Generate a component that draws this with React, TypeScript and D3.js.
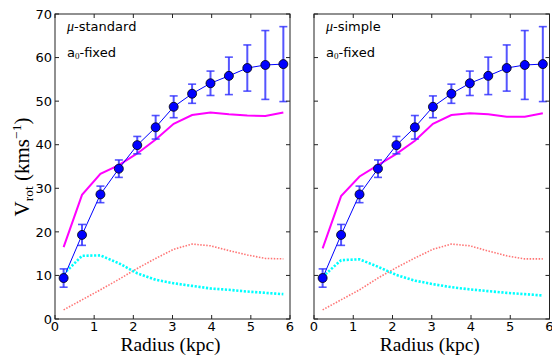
import React from "react";
import * as d3 from "d3";

const radius = [0.22, 0.69, 1.16, 1.63, 2.1, 2.57, 3.03, 3.5, 3.97, 4.44, 4.91, 5.37, 5.83];
const vObs = [9.4, 19.3, 28.6, 34.5, 39.9, 44.0, 48.7, 51.7, 54.1, 55.8, 57.6, 58.3, 58.5];
const vErr = [2.1, 2.4, 1.9, 2.0, 2.0, 2.7, 2.5, 2.2, 2.8, 4.3, 5.3, 7.9, 8.6];

const vTotStd = [16.5, 28.5, 33.3, 35.3, 38.0, 41.2, 44.8, 46.8, 47.4, 47.0, 46.7, 46.6, 47.4];
const vTotSim = [16.2, 28.2, 32.7, 35.3, 37.9, 40.9, 44.8, 46.8, 47.2, 47.0, 46.4, 46.4, 47.2];
const vGasStd = [10.3, 14.5, 14.6, 12.8, 10.5, 9.0, 8.2, 7.6, 7.0, 6.7, 6.3, 6.0, 5.7];
const vGasSim = [9.7, 13.5, 13.7, 12.0, 10.1, 8.8, 8.0, 7.3, 6.8, 6.4, 6.0, 5.7, 5.4];
const vStarStd = [2.1, 4.4, 6.7, 9.1, 11.6, 13.9, 16.0, 17.2, 16.8, 15.7, 14.7, 13.9, 13.8];
const vStarSim = [2.1, 4.4, 6.7, 9.4, 11.8, 14.0, 16.0, 17.2, 16.8, 15.6, 14.5, 13.8, 13.8];

const xTicks = [0, 1, 2, 3, 4, 5, 6];
const yTicks = [0, 10, 20, 30, 40, 50, 60, 70];
const panelLabels = ["standard", "simple"];

const W = 552;
const H = 356;
const TOP = 14;
const BOTTOM = 319;
const SANS = "DejaVu Sans, sans-serif";
const SERIF = "'Liberation Serif', 'DejaVu Serif', serif";

type PanelProps = {
  x0: number;
  x1: number;
  total: number[];
  gas: number[];
  star: number[];
  muName: string;
  showY: boolean;
};

function Panel({ x0, x1, total, gas, star, muName, showY }: PanelProps) {
  const x = d3.scaleLinear().domain([0, 6]).range([x0, x1]);
  const y = d3.scaleLinear().domain([0, 70]).range([BOTTOM, TOP]);
  const line = d3
    .line<number>()
    .x((_, i) => x(radius[i]))
    .y((d) => y(d));
  const tl = 4;
  return (
    <g>
      <path d={line(star) || ""} fill="none" stroke="#ff3b3b" strokeOpacity={0.7} strokeWidth={1.6} strokeDasharray="1.5,1.5" />
      <path d={line(gas) || ""} fill="none" stroke="#00ffff" strokeWidth={2.6} strokeDasharray="2.2,1.6" />
      <path d={line(total) || ""} fill="none" stroke="#ff00ff" strokeWidth={2} />
      {radius.map((r, i) => {
        const cx = x(r);
        const yt = y(vObs[i] + vErr[i]);
        const yb = y(vObs[i] - vErr[i]);
        return (
          <g key={"e" + i} stroke="#2a2aff" strokeOpacity={0.8}>
            <line x1={cx} x2={cx} y1={yt} y2={yb} strokeWidth={2} />
            <line x1={cx - 4} x2={cx + 4} y1={yt} y2={yt} strokeWidth={1.6} />
            <line x1={cx - 4} x2={cx + 4} y1={yb} y2={yb} strokeWidth={1.6} />
          </g>
        );
      })}
      <path d={line(vObs) || ""} fill="none" stroke="#0000ff" strokeWidth={1} />
      {radius.map((r, i) => (
        <circle key={"c" + i} cx={x(r)} cy={y(vObs[i])} r={4.5} fill="#0000ff" stroke="#000" strokeWidth={0.8} />
      ))}
      <rect x={x0} y={TOP} width={x1 - x0} height={BOTTOM - TOP} fill="none" stroke="#222" strokeWidth={1} />
      {xTicks.map((t) => (
        <g key={"xt" + t}>
          <line x1={x(t)} x2={x(t)} y1={BOTTOM} y2={BOTTOM - tl} stroke="#222" />
          <line x1={x(t)} x2={x(t)} y1={TOP} y2={TOP + tl} stroke="#222" />
          <text x={x(t)} y={330.5} textAnchor="middle" fontFamily={SANS} fontSize={13} fill="#000">
            {t}
          </text>
        </g>
      ))}
      {yTicks.map((t) => (
        <g key={"yt" + t}>
          <line x1={x0} x2={x0 + tl} y1={y(t)} y2={y(t)} stroke="#222" />
          <line x1={x1} x2={x1 - tl} y1={y(t)} y2={y(t)} stroke="#222" />
          {showY && (
            <text x={x0 - 3} y={y(t) + 4.7} textAnchor="end" fontFamily={SANS} fontSize={13} fill="#000">
              {t}
            </text>
          )}
        </g>
      ))}
      <text x={x0 + 12} y={31} fontFamily={SANS} fontSize={13} fill="#000">
        <tspan fontStyle="italic" fontFamily={SERIF} fontSize={14}>μ</tspan>
        <tspan>-{muName}</tspan>
      </text>
      <text x={x0 + 12} y={57} fontFamily={SANS} fontSize={13} fill="#000">
        <tspan>a</tspan>
        <tspan fontFamily={SERIF} fontSize={9} dy={2}>0</tspan>
        <tspan dy={-2}>-fixed</tspan>
      </text>
      <text x={(x0 + x1) / 2 - 2} y={350.5} textAnchor="middle" fontFamily={SERIF} fontSize={19.5} fill="#000">
        Radius (kpc)
      </text>
    </g>
  );
}

export default function App() {
  return (
    <div style={{ position: "fixed", left: 0, top: 0 }}>
      <svg width={W} height={H} style={{ display: "block", background: "#fff" }}>
        <Panel x0={55} x1={290} total={vTotStd} gas={vGasStd} star={vStarStd} muName={panelLabels[0]} showY={true} />
        <Panel x0={314} x1={549.5} total={vTotSim} gas={vGasSim} star={vStarSim} muName={panelLabels[1]} showY={false} />
        <text transform="translate(29,167) rotate(-90)" textAnchor="middle" fontFamily={SERIF} fontSize={21} fill="#000">
          <tspan>V</tspan>
          <tspan fontSize={13.5} dy={4}>rot</tspan>
          <tspan dy={-4}> (kms</tspan>
          <tspan fontSize={13.5} dy={-8}>−1</tspan>
          <tspan dy={8}>)</tspan>
        </text>
      </svg>
    </div>
  );
}
